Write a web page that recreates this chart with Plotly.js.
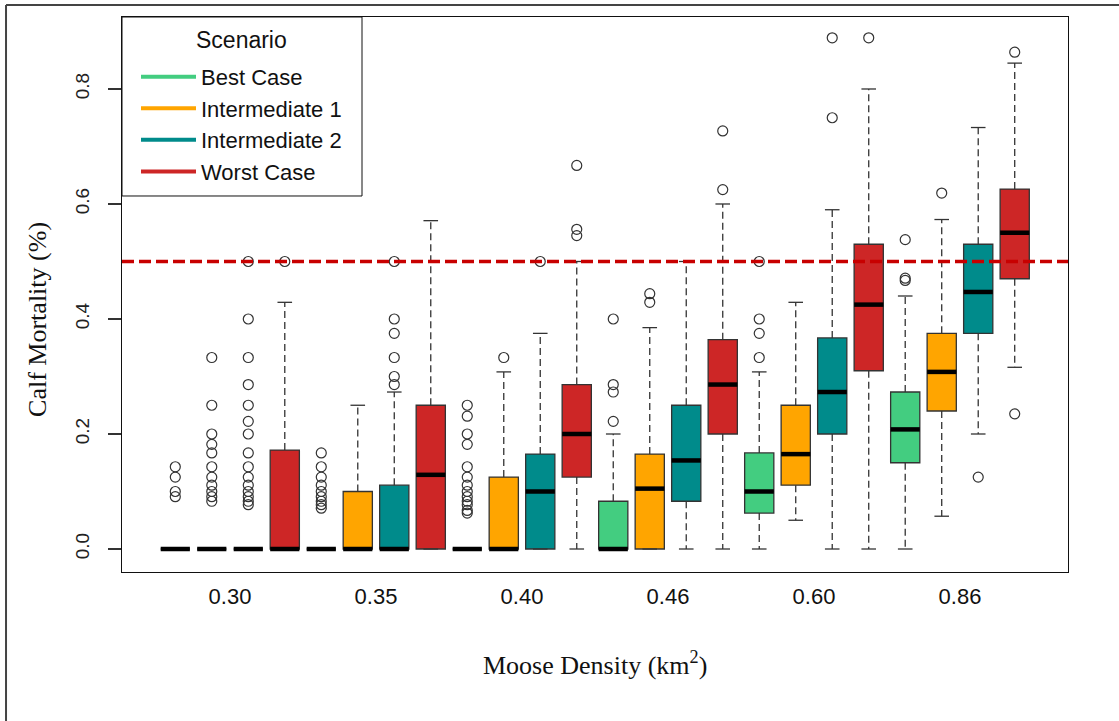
<!DOCTYPE html>
<html><head><meta charset="utf-8">
<script src="https://cdn.plot.ly/plotly-3.0.1.min.js"></script>
<style>html,body{margin:0;padding:0;background:#fff;} #chart{width:1119px;height:721px;}</style>
</head><body><div id="chart"></div>
<script>
// ---- data ----
const densities = ['0.30', '0.35', '0.40', '0.46', '0.60', '0.86'];
const scenarios = ['Best Case', 'Intermediate 1', 'Intermediate 2', 'Worst Case'];
const scenarioColors = ['#43CD80', '#FFA500', '#008B8B', '#CD2626'];
const legendTitle = 'Scenario';
const threshold = 0.5;

// Best Case
const bestQ1  = [0, 0, 0, 0,     0.0625, 0.15];
const bestMed = [0, 0, 0, 0,     0.10,   0.208];
const bestQ3  = [0, 0, 0, 0.083, 0.167,  0.273];
const bestLo  = [0, 0, 0, 0,     0,      0];
const bestHi  = [0, 0, 0, 0.20,  0.308,  0.44];
const bestOut = [
  [0.143, 0.125, 0.1, 0.091],
  [0.167, 0.143, 0.125, 0.111, 0.1, 0.091, 0.083, 0.077, 0.071],
  [0.25, 0.231, 0.2, 0.182, 0.143, 0.125, 0.111, 0.1, 0.091, 0.083, 0.077, 0.067, 0.0625],
  [0.4, 0.286, 0.273, 0.222],
  [0.5, 0.4, 0.375, 0.333],
  [0.538, 0.471, 0.467]
];
// Intermediate 1
const int1Q1  = [0, 0,    0,     0,     0.111, 0.24];
const int1Med = [0, 0,    0,     0.105, 0.165, 0.308];
const int1Q3  = [0, 0.1,  0.125, 0.165, 0.25,  0.375];
const int1Lo  = [0, 0,    0,     0,     0.05,  0.057];
const int1Hi  = [0, 0.25, 0.308, 0.385, 0.429, 0.573];
const int1Out = [
  [0.333, 0.25, 0.2, 0.182, 0.167, 0.143, 0.125, 0.111, 0.1, 0.091, 0.083],
  [],
  [0.333],
  [0.444, 0.429],
  [],
  [0.619]
];
// Intermediate 2
const int2Q1  = [0, 0,     0,     0.083, 0.2,   0.375];
const int2Med = [0, 0,     0.1,   0.154, 0.273, 0.447];
const int2Q3  = [0, 0.111, 0.165, 0.25,  0.367, 0.53];
const int2Lo  = [0, 0,     0,     0,     0,     0.2];
const int2Hi  = [0, 0.273, 0.375, 0.5,   0.59,  0.733];
const int2Out = [
  [0.5, 0.4, 0.333, 0.286, 0.25, 0.222, 0.2, 0.167, 0.143, 0.125, 0.111, 0.1, 0.091, 0.083, 0.077],
  [0.5, 0.4, 0.375, 0.333, 0.3, 0.286],
  [0.5],
  [],
  [0.889, 0.75],
  [0.125]
];
// Worst Case
const worstQ1  = [0,     0,     0.125, 0.2,   0.31,  0.47];
const worstMed = [0,     0.129, 0.2,   0.286, 0.425, 0.55];
const worstQ3  = [0.172, 0.25,  0.286, 0.364, 0.53,  0.626];
const worstLo  = [0,     0,     0,     0,     0,     0.316];
const worstHi  = [0.429, 0.571, 0.5,   0.6,   0.8,   0.845];
const worstOut = [
  [0.5],
  [],
  [0.667, 0.556, 0.545],
  [0.727, 0.625],
  [0.889],
  [0.864, 0.235]
];

// ---- build ----
const stats = [
  {q1: bestQ1,  med: bestMed,  q3: bestQ3,  lo: bestLo,  hi: bestHi,  out: bestOut},
  {q1: int1Q1,  med: int1Med,  q3: int1Q3,  lo: int1Lo,  hi: int1Hi,  out: int1Out},
  {q1: int2Q1,  med: int2Med,  q3: int2Q3,  lo: int2Lo,  hi: int2Hi,  out: int2Out},
  {q1: worstQ1, med: worstMed, q3: worstQ3, lo: worstLo, hi: worstHi, out: worstOut}
];
const nS = scenarios.length;
const BOXW = 0.8, CAPW = 0.4;
const posOf = (g, s) => g * nS + s + 1;
const groupCenters = densities.map((d, g) => g * nS + (nS + 1) / 2);

const traces = [];
const wx = [], wy = [], cx = [], cy = [], mx = [], my = [], ox = [], oy = [];
stats.forEach((st, s) => {
  const xs = densities.map((d, g) => posOf(g, s));
  traces.push({
    type: 'box', x: xs, q1: st.q1, median: st.med, q3: st.q3,
    lowerfence: st.q1, upperfence: st.q3,
    width: BOXW, whiskerwidth: 0, boxpoints: false,
    fillcolor: scenarioColors[s], line: {color: '#333', width: 1.3},
    showlegend: false, hoverinfo: 'skip', name: scenarios[s]
  });
  xs.forEach((p, g) => {
    wx.push(p, p, null, p, p, null);
    wy.push(st.q3[g], st.hi[g], null, st.q1[g], st.lo[g], null);
    cx.push(p - CAPW / 2, p + CAPW / 2, null, p - CAPW / 2, p + CAPW / 2, null);
    cy.push(st.hi[g], st.hi[g], null, st.lo[g], st.lo[g], null);
    mx.push(p - BOXW / 2, p + BOXW / 2, null);
    my.push(st.med[g], st.med[g], null);
    st.out[g].forEach(v => { ox.push(p); oy.push(v); });
  });
});
traces.push({type: 'scatter', mode: 'lines', x: wx, y: wy, connectgaps: false,
  line: {color: '#333', width: 1.3, dash: '7px,4px'}, showlegend: false, hoverinfo: 'skip'});
traces.push({type: 'scatter', mode: 'lines', x: cx, y: cy, connectgaps: false,
  line: {color: '#333', width: 1.3}, showlegend: false, hoverinfo: 'skip'});
traces.push({type: 'scatter', mode: 'lines', x: mx, y: my, connectgaps: false,
  line: {color: '#000', width: 4.5}, showlegend: false, hoverinfo: 'skip'});
traces.push({type: 'scatter', mode: 'markers', x: ox, y: oy,
  marker: {symbol: 'circle-open', size: 10, color: '#333', line: {width: 1.2}},
  showlegend: false, hoverinfo: 'skip'});
scenarios.forEach((name, s) => {
  traces.push({type: 'scatter', mode: 'lines', x: [null], y: [null], name: name,
    line: {color: scenarioColors[s], width: 4}, showlegend: true, hoverinfo: 'skip'});
});

const layout = {
  width: 1119, height: 721,
  margin: {l: 122, r: 51, t: 17, b: 149},
  paper_bgcolor: '#fff', plot_bgcolor: '#fff',
  boxmode: 'overlay',
  showlegend: true,
  font: {family: 'Liberation Sans, Arial, sans-serif', color: '#222'},
  xaxis: {
    range: [-0.46, 25.46], showgrid: false, zeroline: false,
    tickmode: 'array', tickvals: groupCenters, ticktext: densities,
    ticks: '', tickfont: {size: 22, color: '#111'}, ticklabelstandoff: 5,
    showline: true, mirror: true, linecolor: '#111', linewidth: 1
  },
  yaxis: {
    range: [-0.04, 0.9252], showgrid: false, zeroline: false,
    tickmode: 'array', tickvals: [0, 0.2, 0.4, 0.6, 0.8], ticktext: ['0.0', '0.2', '0.4', '0.6', '0.8'],
    tickangle: -90, ticks: 'outside', ticklen: 13, tickcolor: '#333', tickwidth: 1.3,
    tickfont: {size: 19, color: '#222'}, ticklabelstandoff: 11,
    showline: true, mirror: true, linecolor: '#111', linewidth: 1
  },
  legend: {
    x: 0.0148, y: 0.93, xanchor: 'left', yanchor: 'top',
    bgcolor: 'rgba(0,0,0,0)', borderwidth: 0,
    font: {family: 'Liberation Sans, Arial, sans-serif', size: 22, color: '#111'},
    itemwidth: 55, tracegroupgap: 0
  },
  shapes: [
    {type: 'rect', xref: 'paper', yref: 'paper', x0: 0, x1: 0.2537, y0: 0.6775, y1: 1,
      fillcolor: '#fff', line: {color: '#111', width: 1}, layer: 'above'},
    {type: 'line', xref: 'paper', x0: 0, x1: 1, yref: 'y', y0: threshold, y1: threshold,
      line: {color: '#C80000', width: 3.5, dash: '12px,5px'}, layer: 'above'},
    {type: 'line', xref: 'paper', yref: 'paper', x0: -0.1226, x1: 1.06, y0: 1.0216, y1: 1.0216,
      line: {color: '#444', width: 2}},
    {type: 'line', xref: 'paper', yref: 'paper', x0: -0.1226, x1: -0.1226, y0: 1.0216, y1: -0.28,
      line: {color: '#444', width: 2}}
  ],
  annotations: [
    {text: legendTitle, xref: 'paper', yref: 'paper', x: 0.1268, y: 0.9586,
      showarrow: false, xanchor: 'center', yanchor: 'middle',
      font: {family: 'Liberation Sans, Arial, sans-serif', size: 23, color: '#111'}},
    {text: 'Calf Mortality (%)', xref: 'paper', yref: 'paper', x: -0.0888, y: 0.456,
      textangle: -90, showarrow: false, xanchor: 'center', yanchor: 'middle',
      font: {family: 'Liberation Serif, Times New Roman, serif', size: 26, color: '#111'}},
    {text: 'Moose Density (km<sup>2</sup>)', xref: 'paper', yref: 'paper', x: 0.5, y: -0.164,
      showarrow: false, xanchor: 'center', yanchor: 'middle',
      font: {family: 'Liberation Serif, Times New Roman, serif', size: 26, color: '#111'}}
  ]
};

Plotly.newPlot('chart', traces, layout, {displayModeBar: false, staticPlot: true});
</script>
</body></html>
